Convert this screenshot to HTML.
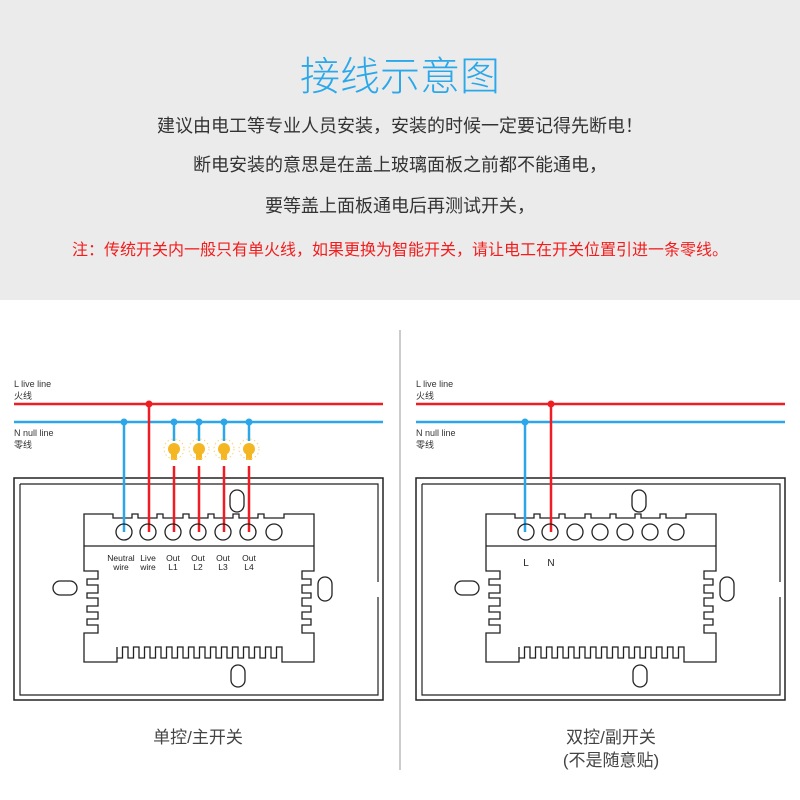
<!DOCTYPE html>
<html><head><meta charset="utf-8"><style>
body{margin:0;width:800px;height:800px;background:#fff;overflow:hidden;font-family:"Liberation Sans","Noto Sans CJK SC",sans-serif}
#top{position:absolute;left:0;top:0;width:800px;height:300px;background:#ebebeb}
.t{position:absolute;left:0;width:800px;text-align:center;white-space:nowrap}
</style></head><body>
<div id="top">
<div class="t" style="top:44px;font-size:40px;color:#2aa8ea;font-weight:300">接线示意图</div>
<div class="t" style="top:112px;font-size:18px;color:#333">建议由电工等专业人员安装，安装的时候一定要记得先断电！</div>
<div class="t" style="top:151px;font-size:18px;color:#333">断电安装的意思是在盖上玻璃面板之前都不能通电，</div>
<div class="t" style="top:192px;font-size:18px;color:#333">要等盖上面板通电后再测试开关，</div>
<div class="t" style="top:236px;font-size:16px;color:#f21c1c">注：传统开关内一般只有单火线，如果更换为智能开关，请让电工在开关位置引进一条零线。</div>
</div>
<svg width="800" height="800" style="position:absolute;left:0;top:0" id="s">
<line x1="400" y1="330" x2="400" y2="770" stroke="#bbb" stroke-width="1.5"/>
<g id="p1"></g><g id="p2" transform="translate(402,0)"></g>
<text x="198" y="743" font-size="17" fill="#444" text-anchor="middle" font-family="Liberation Sans,Noto Sans CJK SC,sans-serif">单控/主开关</text>
<text x="611" y="743" font-size="17" fill="#444" text-anchor="middle" font-family="Liberation Sans,Noto Sans CJK SC,sans-serif">双控/副开关</text>
<text x="611" y="766" font-size="17" fill="#444" text-anchor="middle" font-family="Liberation Sans,Noto Sans CJK SC,sans-serif">(不是随意贴)</text>
</svg>
<script>
function panel(two){
 var s='';
 s+='<rect x="14" y="478" width="369" height="222" fill="none" stroke="#222" stroke-width="1.5"/>';
 s+='<path d="M20,484 H378 V582 M378,597 V695 H20 V484" fill="none" stroke="#222" stroke-width="1.2"/>';
 var d='M84,514 H113 V518';
 var b=[132,157,183,208,233,258];
 b.forEach(function(x){d+=' H'+x+' V514 H'+(x+6)+' V518';});
 d+=' H284 V514 H314 V571';
 var ys=[571,579,585,593,598,606,612,619,625,633];
 for(var i=1;i<ys.length;i++){d+=' H'+(i%2? 302:311)+' V'+ys[i];}
 d+=' H314 V662 H282';
 var x=282,n=15,w=(282-117)/(n*2);
 d+=' V647';
 for(var k=0;k<n;k++){x-=w;d+=' H'+x.toFixed(1)+' V658';x-=w;d+=' H'+x.toFixed(1)+' V647';}
 d+=' V662 H84 V633';
 for(var i=ys.length-2;i>=0;i--){d+=' H'+(i%2? 87:98)+' V'+ys[i];}
 d+=' H84 Z';
 s+='<path d="'+d+'" fill="none" stroke="#222" stroke-width="1.3"/>';
 s+='<line x1="84" y1="546" x2="314" y2="546" stroke="#222" stroke-width="1.3"/>';
 s+='<rect x="230" y="490" width="14" height="22" rx="7" fill="none" stroke="#222" stroke-width="1.3"/>';
 s+='<rect x="231" y="665" width="14" height="22" rx="7" fill="none" stroke="#222" stroke-width="1.3"/>';
 s+='<rect x="53" y="581" width="24" height="14" rx="7" fill="none" stroke="#222" stroke-width="1.3"/>';
 s+='<rect x="318" y="577" width="14" height="24" rx="7" fill="none" stroke="#222" stroke-width="1.3"/>';
 s+='<line x1="14" y1="404" x2="383" y2="404" stroke="#f01c24" stroke-width="2.5"/>';
 s+='<line x1="14" y1="422" x2="383" y2="422" stroke="#2ba6e8" stroke-width="2.5"/>';
 s+='<text x="14" y="387" font-size="9" fill="#333">L live line</text><text x="14" y="399" font-size="9" fill="#333">火线</text>';
 s+='<text x="14" y="436" font-size="9" fill="#333">N null line</text><text x="14" y="448" font-size="9" fill="#333">零线</text>';
 var cx=[124,148,173,198,223,248,274];
 if(!two){
  s+='<line x1="124" y1="422" x2="124" y2="532" stroke="#2ba6e8" stroke-width="2.5"/><circle cx="124" cy="422" r="3.5" fill="#2ba6e8"/>';
  s+='<line x1="149" y1="404" x2="149" y2="532" stroke="#f01c24" stroke-width="2.5"/><circle cx="149" cy="404" r="3.5" fill="#f01c24"/>';
  [174,199,224,249].forEach(function(x){
   s+='<line x1="'+x+'" y1="422" x2="'+x+'" y2="441" stroke="#2ba6e8" stroke-width="2.5"/><circle cx="'+x+'" cy="422" r="3.5" fill="#2ba6e8"/>';
   s+='<circle cx="'+x+'" cy="449" r="6" fill="#f4b623"/><rect x="'+(x-3)+'" y="454" width="6" height="6" fill="#f4b623"/>';
   s+='<circle cx="'+x+'" cy="449" r="10" fill="none" stroke="#f7d27a" stroke-width="1" stroke-dasharray="1.5 2.5"/>';
   s+='<line x1="'+x+'" y1="466" x2="'+x+'" y2="532" stroke="#f01c24" stroke-width="2.5"/>';
  });
 } else {
  s+='<line x1="123" y1="422" x2="123" y2="532" stroke="#2ba6e8" stroke-width="2.5"/><circle cx="123" cy="422" r="3.5" fill="#2ba6e8"/>';
  s+='<line x1="149" y1="404" x2="149" y2="532" stroke="#f01c24" stroke-width="2.5"/><circle cx="149" cy="404" r="3.5" fill="#f01c24"/>';
 }
 cx.forEach(function(x){s+='<circle cx="'+x+'" cy="532" r="8" fill="none" stroke="#222" stroke-width="1.3"/>';});
 if(!two){
  var L=[['Neutral','wire',121],['Live','wire',148],['Out','L1',173],['Out','L2',198],['Out','L3',223],['Out','L4',249]];
  L.forEach(function(a){s+='<text x="'+a[2]+'" y="561" font-size="8.5" fill="#222" text-anchor="middle">'+a[0]+'</text><text x="'+a[2]+'" y="570" font-size="8.5" fill="#222" text-anchor="middle">'+a[1]+'</text>';});
 } else {
  s+='<text x="124" y="566" font-size="10" fill="#222" text-anchor="middle">L</text><text x="149" y="566" font-size="10" fill="#222" text-anchor="middle">N</text>';
 }
 return s;
}
document.getElementById('p1').innerHTML=panel(false);
document.getElementById('p2').innerHTML=panel(true);
</script>
</body></html>
